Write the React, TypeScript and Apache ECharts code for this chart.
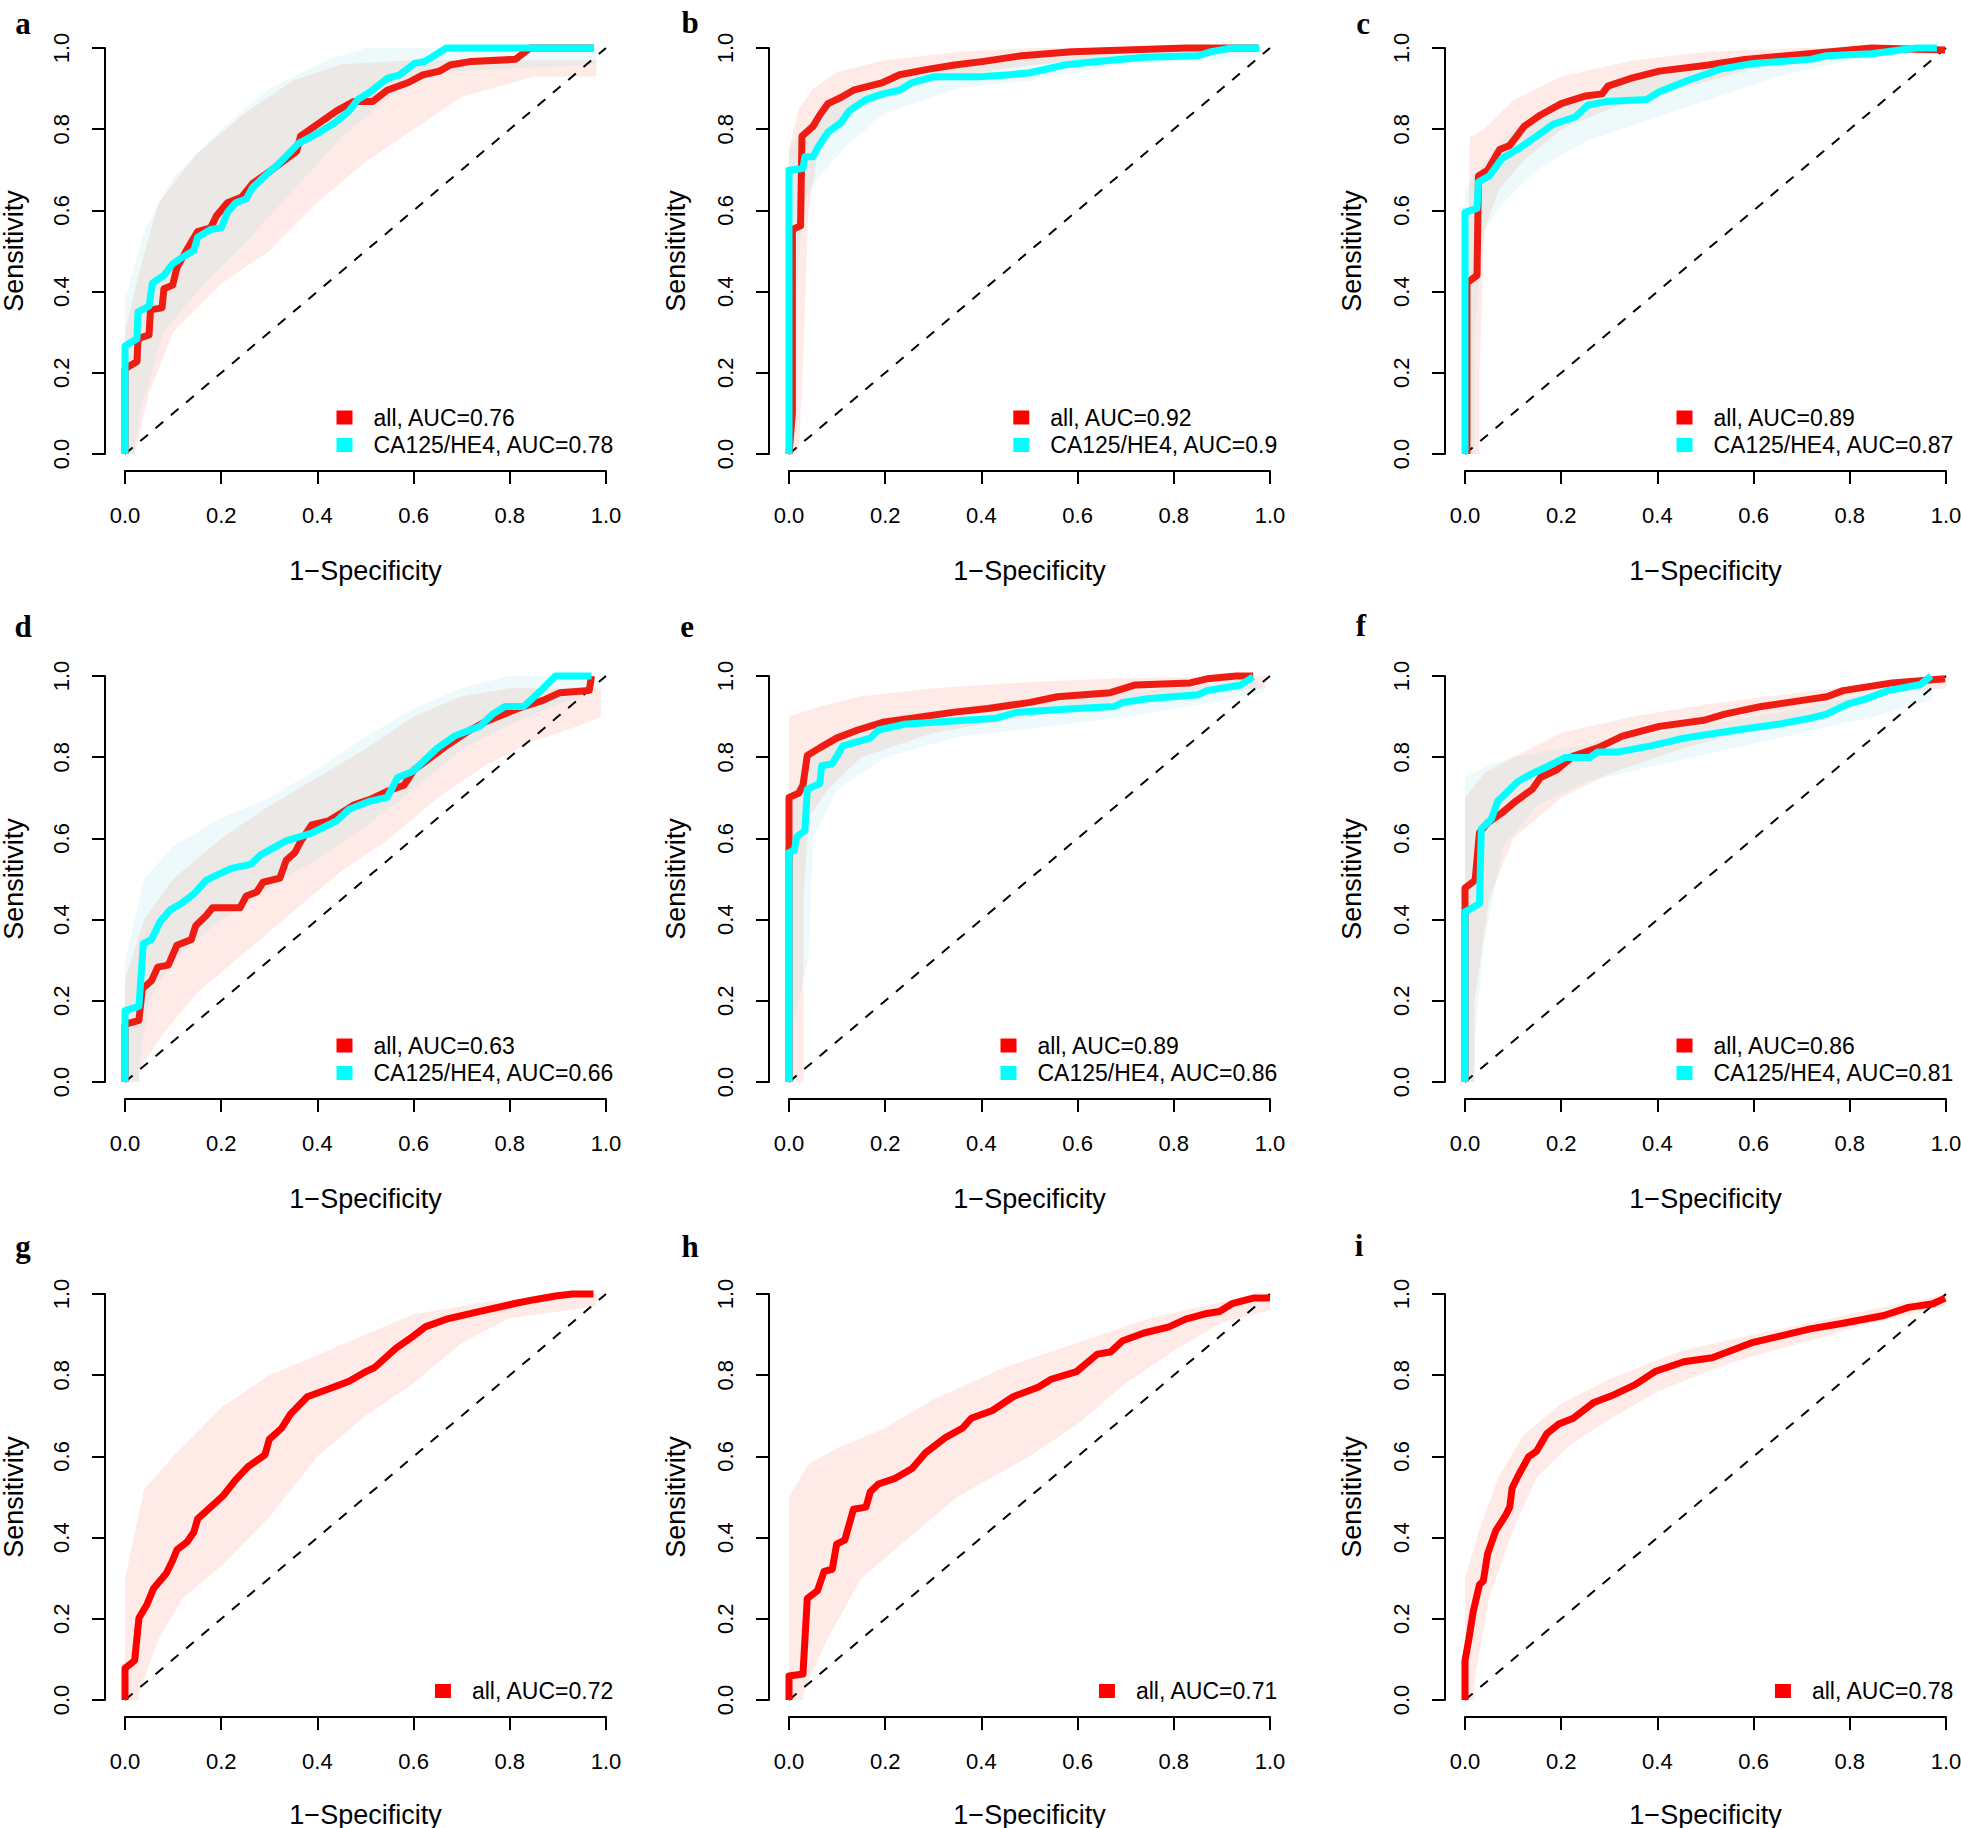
import React, { useEffect, useRef } from "react";
import * as echarts from "echarts";

type P = [number, number];

// ---------- panel a ----------
const aAll: P[] = [[0,0],[0,0.21],[0.025,0.228],[0.027,0.284],[0.05,0.293],[0.053,0.355],[0.077,0.36],[0.081,0.407],[0.099,0.416],[0.108,0.459],[0.13,0.506],[0.151,0.548],[0.178,0.557],[0.19,0.586],[0.213,0.619],[0.243,0.633],[0.265,0.666],[0.309,0.703],[0.357,0.746],[0.365,0.783],[0.405,0.816],[0.44,0.845],[0.475,0.868],[0.515,0.868],[0.545,0.896],[0.589,0.915],[0.619,0.934],[0.654,0.943],[0.676,0.958],[0.72,0.967],[0.812,0.972],[0.842,1],[0.974,1]];
const aCA: P[] = [[0,0],[0,0.266],[0.025,0.284],[0.027,0.35],[0.05,0.364],[0.057,0.421],[0.081,0.44],[0.099,0.468],[0.116,0.482],[0.143,0.501],[0.151,0.534],[0.178,0.553],[0.2,0.557],[0.213,0.595],[0.23,0.619],[0.252,0.628],[0.265,0.656],[0.291,0.685],[0.318,0.713],[0.361,0.765],[0.405,0.793],[0.436,0.816],[0.466,0.845],[0.484,0.873],[0.51,0.892],[0.545,0.925],[0.571,0.934],[0.602,0.962],[0.624,0.967],[0.668,1],[0.974,1]];
const aAllHi: P[] = [[0,0],[0,0.3],[0.03,0.45],[0.07,0.62],[0.15,0.74],[0.25,0.84],[0.35,0.92],[0.45,0.96],[0.6,0.97],[0.98,0.97]];
const aAllLo: P[] = [[0.02,0],[0.05,0.15],[0.1,0.3],[0.2,0.42],[0.3,0.5],[0.4,0.62],[0.5,0.72],[0.6,0.8],[0.7,0.88],[0.85,0.93],[0.98,0.93]];
const aCAHi: P[] = [[0,0],[0,0.38],[0.04,0.55],[0.1,0.68],[0.2,0.8],[0.3,0.9],[0.42,0.97],[0.5,1],[0.98,1]];
const aCALo: P[] = [[0.02,0],[0.03,0.1],[0.08,0.3],[0.15,0.4],[0.25,0.52],[0.35,0.65],[0.45,0.78],[0.55,0.88],[0.65,0.94],[0.98,0.96]];

// ---------- panel b ----------
const bAll: P[] = [[0,0],[0.007,0.1],[0.007,0.553],[0.024,0.562],[0.027,0.783],[0.05,0.807],[0.064,0.835],[0.081,0.863],[0.108,0.878],[0.134,0.896],[0.195,0.915],[0.23,0.934],[0.291,0.948],[0.344,0.958],[0.405,0.967],[0.484,0.981],[0.589,0.991],[0.825,1],[0.974,1]];
const bCA: P[] = [[0,0],[0,0.699],[0.029,0.703],[0.033,0.732],[0.05,0.732],[0.06,0.755],[0.081,0.793],[0.108,0.816],[0.125,0.845],[0.16,0.873],[0.195,0.887],[0.23,0.896],[0.256,0.915],[0.3,0.929],[0.396,0.929],[0.458,0.934],[0.501,0.939],[0.571,0.958],[0.641,0.967],[0.738,0.977],[0.851,0.981],[0.878,0.991],[0.921,1],[0.978,1]];
const bAllHi: P[] = [[0,0],[0,0.75],[0.02,0.85],[0.05,0.9],[0.1,0.94],[0.2,0.97],[0.35,0.99],[0.5,1],[0.98,1]];
const bAllLo: P[] = [[0.02,0],[0.03,0.25],[0.04,0.6],[0.06,0.74],[0.1,0.82],[0.2,0.88],[0.3,0.92],[0.45,0.95],[0.6,0.97],[0.98,0.99]];
const bCAHi: P[] = [[0,0],[0,0.75],[0.03,0.8],[0.08,0.86],[0.15,0.91],[0.25,0.94],[0.4,0.96],[0.6,0.98],[0.98,1]];
const bCALo: P[] = [[0.01,0],[0.01,0.3],[0.03,0.62],[0.06,0.68],[0.12,0.76],[0.2,0.84],[0.35,0.9],[0.5,0.92],[0.7,0.96],[0.98,0.98]];

// ---------- panel c ----------
const cAll: P[] = [[0.004,0],[0.004,0.421],[0.025,0.44],[0.028,0.685],[0.047,0.699],[0.072,0.75],[0.093,0.76],[0.123,0.807],[0.157,0.835],[0.2,0.863],[0.251,0.882],[0.285,0.887],[0.297,0.906],[0.344,0.925],[0.404,0.943],[0.506,0.958],[0.582,0.972],[0.76,0.991],[0.845,1],[0.998,0.995]];
const cCA: P[] = [[0,0],[0,0.595],[0.025,0.605],[0.028,0.67],[0.051,0.685],[0.076,0.727],[0.115,0.755],[0.149,0.783],[0.183,0.812],[0.229,0.83],[0.255,0.859],[0.293,0.868],[0.378,0.873],[0.404,0.892],[0.463,0.92],[0.531,0.948],[0.599,0.962],[0.718,0.972],[0.752,0.981],[0.845,0.986],[0.905,0.995],[0.939,1],[0.981,1]];
const cAllHi: P[] = [[0,0],[0.01,0.78],[0.04,0.8],[0.1,0.87],[0.2,0.93],[0.35,0.97],[0.5,0.99],[0.7,1],[0.99,1]];
const cAllLo: P[] = [[0.03,0],[0.03,0.2],[0.04,0.55],[0.07,0.65],[0.12,0.72],[0.2,0.8],[0.3,0.85],[0.45,0.9],[0.6,0.95],[0.8,0.98],[0.99,0.99]];
const cCAHi: P[] = [[0,0],[0,0.65],[0.04,0.72],[0.1,0.8],[0.2,0.86],[0.35,0.92],[0.5,0.96],[0.7,0.98],[0.99,1]];
const cCALo: P[] = [[0.02,0],[0.02,0.3],[0.04,0.55],[0.08,0.62],[0.15,0.7],[0.25,0.77],[0.35,0.81],[0.5,0.87],[0.65,0.93],[0.8,0.97],[0.99,0.99]];

// ---------- panel d ----------
const dAll: P[] = [[0,0],[0,0.142],[0.029,0.152],[0.036,0.23],[0.055,0.249],[0.068,0.283],[0.09,0.288],[0.108,0.337],[0.138,0.351],[0.147,0.385],[0.169,0.41],[0.182,0.429],[0.239,0.429],[0.252,0.458],[0.274,0.468],[0.287,0.492],[0.322,0.502],[0.335,0.546],[0.353,0.565],[0.366,0.594],[0.388,0.633],[0.423,0.643],[0.449,0.662],[0.475,0.682],[0.51,0.696],[0.545,0.716],[0.58,0.731],[0.602,0.77],[0.624,0.789],[0.668,0.828],[0.711,0.862],[0.747,0.886],[0.817,0.92],[0.869,0.94],[0.904,0.959],[0.965,0.964],[0.97,1]];
const dCA: P[] = [[0,0],[0,0.176],[0.029,0.186],[0.038,0.341],[0.055,0.351],[0.073,0.395],[0.094,0.424],[0.116,0.439],[0.143,0.463],[0.169,0.497],[0.195,0.512],[0.221,0.526],[0.261,0.536],[0.283,0.56],[0.335,0.594],[0.388,0.613],[0.44,0.643],[0.466,0.672],[0.51,0.692],[0.545,0.701],[0.567,0.75],[0.598,0.765],[0.65,0.823],[0.685,0.852],[0.738,0.876],[0.764,0.906],[0.79,0.925],[0.829,0.925],[0.869,0.969],[0.895,1],[0.97,1]];
const dAllHi: P[] = [[0,0],[0,0.25],[0.04,0.4],[0.1,0.5],[0.2,0.6],[0.3,0.68],[0.4,0.75],[0.5,0.82],[0.6,0.9],[0.7,0.95],[0.8,0.97],[0.99,0.97]];
const dAllLo: P[] = [[0.03,0],[0.03,0.03],[0.08,0.12],[0.15,0.22],[0.25,0.32],[0.35,0.42],[0.45,0.52],[0.55,0.6],[0.65,0.7],[0.75,0.78],[0.85,0.84],[0.95,0.88],[0.99,0.9]];
const dCAHi: P[] = [[0,0],[0,0.3],[0.04,0.5],[0.1,0.58],[0.2,0.65],[0.3,0.7],[0.4,0.77],[0.5,0.85],[0.6,0.92],[0.7,0.97],[0.8,1],[0.97,1]];
const dCALo: P[] = [[0.03,0],[0.03,0.05],[0.05,0.2],[0.1,0.3],[0.2,0.4],[0.3,0.48],[0.4,0.55],[0.5,0.63],[0.6,0.72],[0.7,0.82],[0.8,0.88],[0.9,0.93],[0.97,0.96]];

// ---------- panel e ----------
const eAll: P[] = [[0,0],[0,0.701],[0.02,0.711],[0.029,0.731],[0.038,0.804],[0.064,0.823],[0.099,0.847],[0.143,0.867],[0.195,0.886],[0.256,0.896],[0.344,0.911],[0.414,0.92],[0.501,0.935],[0.558,0.949],[0.668,0.959],[0.72,0.978],[0.834,0.983],[0.869,0.993],[0.93,1],[0.965,1]];
const eCA: P[] = [[0,0],[0,0.565],[0.011,0.57],[0.016,0.604],[0.033,0.619],[0.038,0.721],[0.064,0.735],[0.068,0.779],[0.09,0.784],[0.112,0.828],[0.169,0.847],[0.186,0.867],[0.239,0.881],[0.3,0.886],[0.431,0.896],[0.475,0.911],[0.598,0.92],[0.677,0.925],[0.694,0.935],[0.746,0.944],[0.851,0.954],[0.869,0.964],[0.939,0.978],[0.965,0.998]];
const eAllHi: P[] = [[0,0],[0,0.9],[0.05,0.92],[0.15,0.95],[0.3,0.97],[0.5,0.985],[0.7,0.995],[0.99,1]];
const eAllLo: P[] = [[0.03,0],[0.03,0.45],[0.04,0.65],[0.08,0.72],[0.15,0.8],[0.3,0.86],[0.5,0.9],[0.7,0.94],[0.85,0.96],[0.99,0.97]];
const eCAHi: P[] = [[0,0],[0,0.7],[0.04,0.78],[0.1,0.86],[0.2,0.9],[0.4,0.93],[0.6,0.95],[0.8,0.97],[0.97,0.99]];
const eCALo: P[] = [[0.01,0],[0.01,0.15],[0.04,0.3],[0.05,0.6],[0.1,0.72],[0.2,0.8],[0.35,0.85],[0.5,0.87],[0.7,0.9],[0.85,0.93],[0.99,0.96]];

// ---------- panel f ----------
const fAll: P[] = [[0,0],[0,0.478],[0.021,0.497],[0.03,0.614],[0.047,0.638],[0.076,0.662],[0.106,0.692],[0.14,0.721],[0.157,0.75],[0.191,0.769],[0.225,0.803],[0.276,0.823],[0.327,0.852],[0.404,0.876],[0.497,0.891],[0.54,0.906],[0.616,0.925],[0.701,0.94],[0.752,0.949],[0.786,0.964],[0.888,0.983],[0.998,0.993]];
const fCA: P[] = [[0,0],[0,0.419],[0.03,0.439],[0.034,0.624],[0.055,0.648],[0.068,0.692],[0.085,0.711],[0.11,0.74],[0.14,0.76],[0.166,0.774],[0.208,0.799],[0.259,0.799],[0.276,0.813],[0.319,0.813],[0.387,0.828],[0.455,0.847],[0.565,0.867],[0.65,0.881],[0.718,0.896],[0.752,0.906],[0.794,0.93],[0.837,0.945],[0.879,0.964],[0.947,0.979],[0.969,1]];
const fAllHi: P[] = [[0,0],[0,0.7],[0.04,0.76],[0.1,0.8],[0.2,0.86],[0.35,0.9],[0.5,0.93],[0.7,0.96],[0.85,0.98],[1,1]];
const fAllLo: P[] = [[0.02,0],[0.02,0.2],[0.05,0.45],[0.1,0.6],[0.2,0.7],[0.3,0.76],[0.45,0.82],[0.6,0.87],[0.75,0.91],[0.9,0.96],[1,0.97]];
const fCAHi: P[] = [[0,0],[0,0.75],[0.05,0.78],[0.1,0.8],[0.2,0.82],[0.35,0.85],[0.5,0.88],[0.7,0.92],[0.85,0.96],[0.97,1]];
const fCALo: P[] = [[0.02,0],[0.02,0.1],[0.04,0.35],[0.08,0.58],[0.15,0.68],[0.25,0.74],[0.4,0.78],[0.55,0.82],[0.7,0.86],[0.85,0.9],[0.97,0.94]];

// ---------- panel g ----------
const gAll: P[] = [[0,0],[0,0.078],[0.02,0.097],[0.029,0.202],[0.046,0.236],[0.059,0.274],[0.086,0.312],[0.098,0.341],[0.108,0.37],[0.129,0.389],[0.143,0.413],[0.151,0.446],[0.178,0.475],[0.204,0.503],[0.23,0.542],[0.256,0.575],[0.291,0.604],[0.3,0.642],[0.326,0.67],[0.344,0.704],[0.379,0.747],[0.423,0.766],[0.466,0.785],[0.501,0.809],[0.519,0.819],[0.563,0.866],[0.598,0.895],[0.624,0.919],[0.668,0.938],[0.738,0.957],[0.808,0.976],[0.851,0.986],[0.895,0.995],[0.93,1],[0.974,1]];
const gAllHi: P[] = [[0,0],[0,0.3],[0.04,0.52],[0.1,0.6],[0.2,0.72],[0.3,0.8],[0.4,0.85],[0.5,0.9],[0.6,0.95],[0.75,0.98],[0.98,1]];
const gAllLo: P[] = [[0.03,0],[0.03,0.02],[0.07,0.15],[0.12,0.25],[0.2,0.33],[0.3,0.45],[0.4,0.6],[0.5,0.7],[0.6,0.78],[0.7,0.88],[0.8,0.94],[0.98,0.97]];

// ---------- panel h ----------
const hAll: P[] = [[0,0],[0,0.059],[0.029,0.064],[0.038,0.25],[0.059,0.269],[0.073,0.317],[0.09,0.322],[0.099,0.384],[0.116,0.394],[0.134,0.47],[0.16,0.475],[0.169,0.513],[0.186,0.532],[0.221,0.546],[0.256,0.57],[0.283,0.608],[0.326,0.647],[0.361,0.67],[0.379,0.694],[0.423,0.713],[0.466,0.747],[0.519,0.771],[0.545,0.79],[0.598,0.809],[0.641,0.852],[0.668,0.857],[0.694,0.885],[0.738,0.904],[0.79,0.919],[0.825,0.938],[0.869,0.952],[0.895,0.957],[0.921,0.976],[0.965,0.99],[1,0.99]];
const hAllHi: P[] = [[0,0],[0,0.5],[0.04,0.58],[0.1,0.62],[0.2,0.67],[0.3,0.74],[0.45,0.82],[0.6,0.88],[0.75,0.94],[0.9,0.98],[1,1]];
const hAllLo: P[] = [[0.03,0],[0.03,0.02],[0.08,0.15],[0.15,0.3],[0.25,0.4],[0.35,0.5],[0.5,0.6],[0.6,0.68],[0.7,0.78],[0.8,0.86],[0.9,0.93],[1,0.96]];

// ---------- panel i ----------
const iAll: P[] = [[0,0],[0,0.097],[0.008,0.15],[0.017,0.217],[0.03,0.284],[0.038,0.293],[0.047,0.36],[0.064,0.417],[0.085,0.456],[0.093,0.475],[0.098,0.522],[0.11,0.551],[0.132,0.599],[0.149,0.613],[0.17,0.656],[0.195,0.68],[0.225,0.694],[0.268,0.733],[0.31,0.752],[0.353,0.776],[0.395,0.809],[0.455,0.833],[0.514,0.843],[0.599,0.881],[0.65,0.895],[0.718,0.914],[0.786,0.928],[0.871,0.947],[0.922,0.967],[0.973,0.976],[0.998,0.99]];
const iAllHi: P[] = [[0,0],[0,0.3],[0.03,0.42],[0.07,0.55],[0.12,0.65],[0.2,0.73],[0.3,0.79],[0.45,0.86],[0.6,0.9],[0.8,0.95],[1,1]];
const iAllLo: P[] = [[0.02,0],[0.02,0.05],[0.05,0.25],[0.1,0.42],[0.15,0.55],[0.22,0.63],[0.3,0.69],[0.4,0.76],[0.55,0.83],[0.7,0.88],[0.85,0.93],[1,0.97]];

const tickLabels = ["0.0", "0.2", "0.4", "0.6", "0.8", "1.0"];
const diagonal: P[] = [[0, 0], [1, 1]];

type Panel = {
  letter: string;
  all: P[]; allHi: P[]; allLo: P[]; allLabel: string;
  ca?: P[]; caHi?: P[]; caLo?: P[]; caLabel?: string;
};

const panels: Panel[] = [
  { letter: "a", all: aAll, allHi: aAllHi, allLo: aAllLo, allLabel: "all, AUC=0.76", ca: aCA, caHi: aCAHi, caLo: aCALo, caLabel: "CA125/HE4, AUC=0.78" },
  { letter: "b", all: bAll, allHi: bAllHi, allLo: bAllLo, allLabel: "all, AUC=0.92", ca: bCA, caHi: bCAHi, caLo: bCALo, caLabel: "CA125/HE4, AUC=0.9" },
  { letter: "c", all: cAll, allHi: cAllHi, allLo: cAllLo, allLabel: "all, AUC=0.89", ca: cCA, caHi: cCAHi, caLo: cCALo, caLabel: "CA125/HE4, AUC=0.87" },
  { letter: "d", all: dAll, allHi: dAllHi, allLo: dAllLo, allLabel: "all, AUC=0.63", ca: dCA, caHi: dCAHi, caLo: dCALo, caLabel: "CA125/HE4, AUC=0.66" },
  { letter: "e", all: eAll, allHi: eAllHi, allLo: eAllLo, allLabel: "all, AUC=0.89", ca: eCA, caHi: eCAHi, caLo: eCALo, caLabel: "CA125/HE4, AUC=0.86" },
  { letter: "f", all: fAll, allHi: fAllHi, allLo: fAllLo, allLabel: "all, AUC=0.86", ca: fCA, caHi: fCAHi, caLo: fCALo, caLabel: "CA125/HE4, AUC=0.81" },
  { letter: "g", all: gAll, allHi: gAllHi, allLo: gAllLo, allLabel: "all, AUC=0.72" },
  { letter: "h", all: hAll, allHi: hAllHi, allLo: hAllLo, allLabel: "all, AUC=0.71" },
  { letter: "i", all: iAll, allHi: iAllHi, allLo: iAllLo, allLabel: "all, AUC=0.78" },
];

const W = 1961, H = 1828;
const COL_X = [125, 789, 1465];
const ROW_Y = [48, 676, 1294];
const Y_NAME_GAP = [78, 80, 80];
const PW = 481, PH = 406;
const LETTER_POS: [number, number][] = [[23, 23], [690, 22], [1363, 23], [23, 626], [687, 626], [1361, 625], [23, 1246], [690, 1246], [1359, 1245]];

const RED = "#ff0000";
const RED_MAIN = "#ee1c12";
const CYAN = "#00ffff";
const RED_HAZE = "rgba(250,120,100,0.15)";
const CYAN_HAZE = "rgba(140,215,225,0.16)";
const SANS = "'Liberation Sans', Arial, Helvetica, sans-serif";
const LEGEND_FONT = "23px 'Liberation Sans', Arial, Helvetica, sans-serif";

function measure(text: string, font: string): number {
  const c = document.createElement("canvas").getContext("2d");
  if (!c) return text.length * 12;
  c.font = font;
  return c.measureText(text).width;
}

function band(hi: P[], lo: P[], xi: number, fill: string) {
  const poly: P[] = hi.concat(lo.slice().reverse());
  return {
    type: "custom",
    xAxisIndex: xi,
    yAxisIndex: xi,
    silent: true,
    clip: false,
    z: 1,
    data: poly,
    encode: { x: 0, y: 1 },
    renderItem: (params: any, api: any) => {
      if (params.dataIndex !== 0) return null;
      return {
        type: "polygon",
        shape: { points: poly.map((p) => api.coord(p)) },
        style: { fill, stroke: "none" },
      };
    },
  };
}

function buildOption() {
  const grid: any[] = [], xAxis: any[] = [], yAxis: any[] = [], series: any[] = [], graphic: any[] = [];
  panels.forEach((p, i) => {
    const col = i % 3, row = Math.floor(i / 3);
    const x0 = COL_X[col], y1 = ROW_Y[row];
    grid.push({ left: x0, top: y1, width: PW, height: PH, containLabel: false, outerBoundsMode: "none" });
    xAxis.push({
      type: "value", gridIndex: i, min: 0, max: 1, interval: 0.2, offset: 17, position: "bottom",
      axisLine: { show: true, onZero: false, lineStyle: { color: "#000", width: 2 } },
      axisTick: { show: true, inside: false, length: 13, lineStyle: { color: "#000", width: 2 } },
      axisLabel: { show: true, fontSize: 22, color: "#000", fontFamily: SANS, margin: 33, hideOverlap: false,
        formatter: (v: number) => tickLabels[Math.round(v * 5)] },
      splitLine: { show: false },
      name: "1\u2212Specificity", nameLocation: "middle", nameGap: row === 2 ? 84 : 86,
      nameTextStyle: { fontSize: 27, color: "#000", fontFamily: SANS },
    });
    yAxis.push({
      type: "value", gridIndex: i, min: 0, max: 1, interval: 0.2, offset: 20, position: "left",
      axisLine: { show: true, onZero: false, lineStyle: { color: "#000", width: 2 } },
      axisTick: { show: true, inside: false, length: 13, lineStyle: { color: "#000", width: 2 } },
      axisLabel: { show: true, fontSize: 22, color: "#000", fontFamily: SANS, margin: 33, rotate: 90, hideOverlap: false,
        formatter: (v: number) => tickLabels[Math.round(v * 5)] },
      splitLine: { show: false },
      name: "Sensitivity", nameLocation: "middle", nameGap: Y_NAME_GAP[col],
      nameTextStyle: { fontSize: 27, color: "#000", fontFamily: SANS },
    });
    series.push(band(p.allHi, p.allLo, i, RED_HAZE));
    if (p.ca && p.caHi && p.caLo) series.push(band(p.caHi, p.caLo, i, CYAN_HAZE));
    series.push({
      type: "line", xAxisIndex: i, yAxisIndex: i, data: diagonal, symbol: "none", silent: true, clip: false, z: 2,
      lineStyle: { color: "#000", width: 2, type: [10, 10] },
    });
    series.push({
      type: "line", name: p.allLabel, xAxisIndex: i, yAxisIndex: i, data: p.all, symbol: "none", clip: false, z: 3,
      color: RED, itemStyle: { color: RED },
      lineStyle: { color: p.ca ? RED_MAIN : RED, width: 7, join: "round" },
    });
    const entries: { label: string; color: string }[] = [{ label: p.allLabel, color: RED }];
    if (p.ca) {
      series.push({
        type: "line", name: p.caLabel, xAxisIndex: i, yAxisIndex: i, data: p.ca, symbol: "none", clip: false, z: 4,
        color: CYAN, itemStyle: { color: CYAN },
        lineStyle: { color: CYAN, width: 7, join: "round" },
      });
      entries.push({ label: p.caLabel as string, color: CYAN });
    }
    // legend (R style, bottom-right, no box)
    const y0 = y1 + PH;
    const right = x0 + 489.5;
    const maxW = Math.max(...entries.map((e) => measure(e.label, LEGEND_FONT)));
    const textLeft = right - maxW;
    const boxLeft = textLeft - 21 - 16;
    entries.forEach((e, k) => {
      const cy = y0 - 9 - (entries.length - 1 - k) * 27.5;
      graphic.push({ type: "rect", silent: true, shape: { x: boxLeft, y: cy - 7, width: 16, height: 14 }, style: { fill: e.color } });
      graphic.push({ type: "text", silent: true, x: textLeft, y: cy,
        style: { text: e.label, font: LEGEND_FONT, fill: "#000", align: "left", verticalAlign: "middle" } });
    });
    const [lx, ly] = LETTER_POS[i];
    graphic.push({
      type: "text", silent: true, x: lx, y: ly,
      style: { text: p.letter, font: "bold 31px 'Liberation Serif', 'Times New Roman', serif", fill: "#000", align: "center", verticalAlign: "middle" },
    });
  });
  return { animation: false, backgroundColor: "#fff", grid, xAxis, yAxis, series, graphic };
}

export default function App() {
  const ref = useRef<HTMLDivElement>(null);
  useEffect(() => {
    if (!ref.current) return;
    const chart = echarts.init(ref.current, null, { renderer: "svg" });
    chart.setOption(buildOption() as any);
    return () => chart.dispose();
  }, []);
  return <div ref={ref} style={{ position: "absolute", left: 0, top: 0, width: W, height: H, background: "#fff" }} />;
}
